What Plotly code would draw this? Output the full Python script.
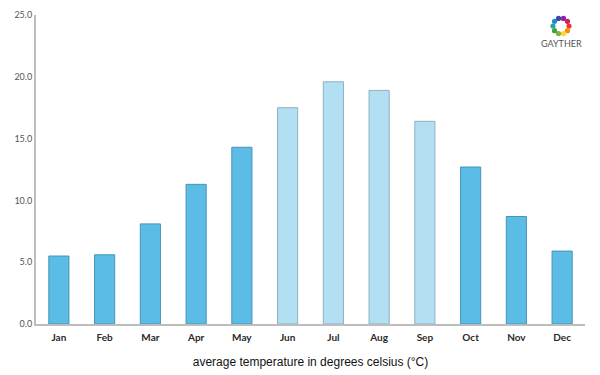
import plotly.graph_objects as go
import math

months = ["Jan", "Feb", "Mar", "Apr", "May", "Jun", "Jul", "Aug", "Sep", "Oct", "Nov", "Dec"]
temps = [5.5, 5.6, 8.1, 11.3, 14.3, 17.5, 19.6, 18.9, 16.4, 12.7, 8.7, 5.9]
summer = [False, False, False, False, False, True, True, True, True, False, False, False]

fill = ["#b2dff2" if s else "#5bbde6" for s in summer]
edge = ["#8fb0c2" if s else "#4793b8" for s in summer]

fig = go.Figure()
fig.add_trace(go.Bar(
    x=months, y=temps,
    marker=dict(color=fill, line=dict(color=edge, width=1)),
    hoverinfo="x+y",
))

# page body has an 8px margin; compensate so the plot lands where the reference has it
OFF = 8
FW, FH = 600 - OFF, 375 - OFF
L, T, W, H = 36 - OFF, 15 - OFF, 549, 309


def px_to_paper(sx, sy):
    return (sx - OFF - L) / W, (T + H - (sy - OFF)) / H


# logo (decorative)
logo_colors = ["#e53935", "#fb8c00", "#fdd835", "#7cb342", "#43a047", "#26a69a",
               "#1e88e5", "#3949ab", "#8e24aa", "#d81b60"]
cx, cy, r, d = 561, 26, 8, 2.6
for i, c in enumerate(logo_colors):
    a = 2 * math.pi * i / len(logo_colors)
    px, py = cx + r * math.cos(a), cy + r * math.sin(a)
    x0, y0 = px_to_paper(px - d, py + d)
    x1, y1 = px_to_paper(px + d, py - d)
    fig.add_shape(type="circle", xref="paper", yref="paper",
                  x0=x0, x1=x1, y0=y0, y1=y1,
                  fillcolor=c, line=dict(width=0))
tx, ty = px_to_paper(561, 43)
fig.add_annotation(x=tx, y=ty, xref="paper", yref="paper",
                   xanchor="center", yanchor="middle",
                   text="GAYTHER", showarrow=False,
                   font=dict(family="Lato", size=9, color="#555555"))

fig.update_layout(
    width=FW, height=FH,
    margin=dict(l=L, r=FW - L - W, t=T, b=FH - T - H),
    paper_bgcolor="white", plot_bgcolor="white",
    bargap=0.56,
    showlegend=False,
    xaxis=dict(
        automargin=False,
        showline=True, linecolor="#bdbdbd", linewidth=2,
        showgrid=False, ticks="",
        ticklabelstandoff=3,
        tickfont=dict(family="Lato", size=10, color="#2a2a2a", weight="bold"),
        title=dict(text="average temperature in degrees celsius (°C)",
                   font=dict(family="Liberation Sans", size=12, color="#111111"),
                   standoff=16),
    ),
    yaxis=dict(
        automargin=False,
        range=[0, 25], dtick=5, tickformat=".1f",
        showline=True, linecolor="#bdbdbd", linewidth=2,
        showgrid=False, zeroline=False, ticks="",
        tickfont=dict(family="Lato", size=9, color="#555555"),
    ),
)

fig.write_html("out.html")
